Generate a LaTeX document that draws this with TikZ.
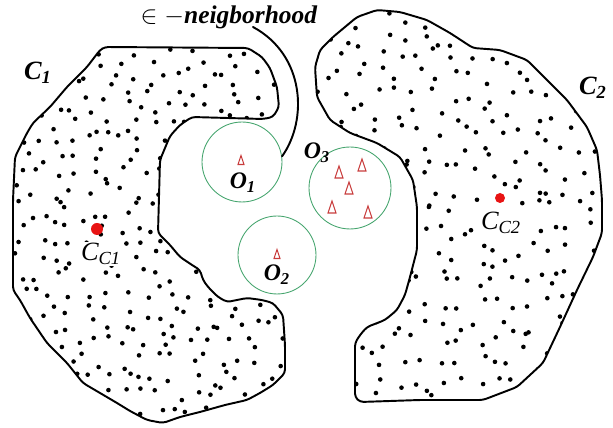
\documentclass[tikz,border=0pt]{standalone}
\usepackage{fontspec}
\setmainfont{Liberation Serif}
\definecolor{nbgreen}{RGB}{70,165,110}
\definecolor{markred}{RGB}{200,60,60}
\definecolor{centred}{RGB}{232,20,20}
\begin{document}
\begin{tikzpicture}[x=0.02cm, y=-0.02cm,
    outline/.style={line width=1.1pt, line join=round, rounded corners=2},
    nbhd/.style={circle, draw=nbgreen, line width=0.5pt, inner sep=0pt},
    trimark/.style={draw=markred, line width=0.6pt},
    centroid/.style={circle, fill=centred, inner sep=0pt},
    lead/.style={line width=1.1pt, line cap=round},
    clabel/.style={font=\fontsize{15}{17}\selectfont\bfseries\itshape},
    olabel/.style={font=\fontsize{13.5}{15}\selectfont\bfseries\itshape},
    cclabel/.style={font=\fontsize{15}{17}\selectfont\itshape, fill=white, inner sep=0.5pt}]
  % Cluster outlines, in pixels from the top left corner.
  \newcommand{\clusterone}{(105,47) -- (248,48) -- (262,57) -- (270,68) -- (277,87)
    -- (279,107) -- (273,117) -- (263,119) -- (192,117) -- (180,125) -- (170,136)
    -- (165,148) -- (160,160) -- (158,233) -- (170,245) -- (180,257) -- (192,265)
    -- (200,270) -- (203,280) -- (208,287) -- (218,297) -- (227,302) -- (247,298)
    -- (262,300) -- (273,303) -- (283,315) -- (285,345) -- (285,373) -- (273,385)
    -- (260,393) -- (247,400) -- (225,405) -- (200,412) -- (180,417) -- (163,423)
    -- (147,420) -- (130,411) -- (117,403) -- (100,393) -- (83,383) -- (67,363)
    -- (47,343) -- (30,318) -- (20,300) -- (13,290) -- (13,200) -- (15,157)
    -- (20,147) -- (27,133) -- (33,123) -- (50,107) -- (67,87) -- (87,67)
    -- (100,50) -- cycle}
  \newcommand{\clustertwo}{(357,17) -- (377,10) -- (400,12) -- (427,20) -- (450,33)
    -- (473,48) -- (500,50) -- (527,60) -- (547,80) -- (567,100) -- (587,127)
    -- (597,150) -- (600,175) -- (602,200) -- (602,233) -- (593,257) -- (577,290)
    -- (560,327) -- (543,363) -- (517,387) -- (483,400) -- (420,400) -- (360,402)
    -- (355,397) -- (355,343) -- (360,335) -- (367,327) -- (385,320) -- (397,310)
    -- (405,295) -- (410,277) -- (417,250) -- (417,207) -- (413,180) -- (400,157)
    -- (377,143) -- (350,133) -- (330,120) -- (317,97) -- (315,67) -- (320,50)
    -- (333,37) -- cycle}
  % An outlier mark: #1, #2 = its center, #3 = half its width.
  \newcommand{\tri}[3]{%
    \draw[trimark] (#1-#3,#2+1.5*#3) -- (#1,#2-1.5*#3) -- (#1+#3,#2+1.5*#3) -- cycle;}

  \useasboundingbox (0,0) rectangle (613,428);
  \pgfmathsetseed{11}
  \begin{scope}
    \clip \clusterone;
    \foreach \x in {13,30,...,285}
      \foreach \y in {47,64,...,423}
        \fill ({\x+17*rnd},{\y+17*rnd}) circle[radius=2.3];
  \end{scope}
  \begin{scope}
    \clip \clustertwo;
    \foreach \x in {315,334,...,602}
      \foreach \y in {10,29,...,402}
        \fill ({\x+19*rnd},{\y+19*rnd}) circle[radius=2.3];
  \end{scope}
  \draw[outline] \clusterone;
  \draw[outline] \clustertwo;

  \node[clabel] (c1lbl) at (38,73) {C\textsubscript{1}};
  \node[clabel] (c2lbl) at (593,88) {C\textsubscript{2}};
  \node[centroid, minimum size=0.24cm] (cc1) at (97,229) {};
  \node[cclabel] (cc1lbl) at (101,254) {C\textsubscript{C1}};
  \node[centroid, minimum size=0.2cm] (cc2) at (500,198) {};
  \node[cclabel] (cc2lbl) at (501,223) {C\textsubscript{C2}};

  \node[nbhd, minimum size=1.6cm] (o1) at (242,162) {};
  \node[nbhd, minimum size=1.56cm] (o2) at (277,255) {};
  \node[nbhd, minimum size=1.64cm] (o3) at (350,188) {};
  \tri{241}{160}{3}
  \tri{277}{254}{3}
  \tri{339}{172}{4}
  \tri{362}{165}{4}
  \tri{349}{188}{4}
  \tri{332}{207}{4}
  \tri{368}{212}{4}
  \node[olabel] (o1lbl) at (243,183) {O\textsubscript{1}};
  \node[olabel] (o2lbl) at (277,275) {O\textsubscript{2}};
  \node[olabel] (o3lbl) at (317,153) {O\textsubscript{3}};

  \node[font=\fontsize{14.5}{16}\selectfont] (nblbl) at (229,17)
    {$\in -$\textbf{\textit{neigborhood}}};
  \coordinate (leadtop) at (253,27);
  \draw[lead] (leadtop) .. controls (305,55) and (308,120) .. (o1.8);
\end{tikzpicture}
\end{document}
